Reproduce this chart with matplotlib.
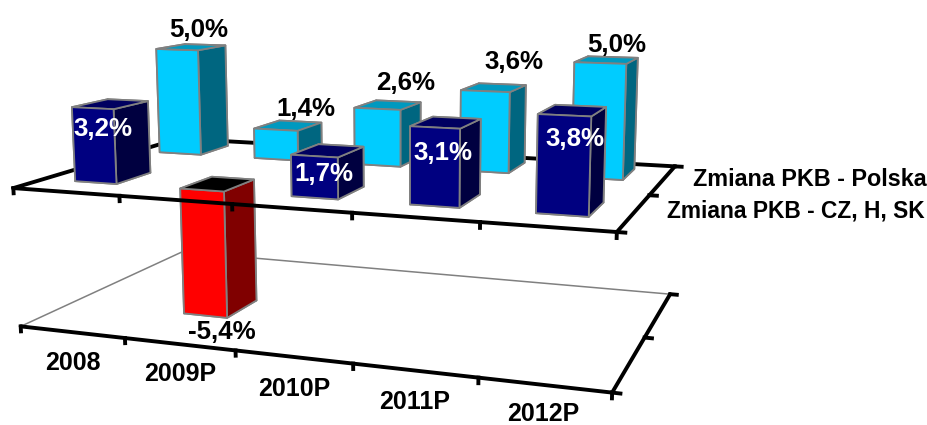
import numpy as np
import matplotlib
matplotlib.use("Agg")
import matplotlib.pyplot as plt
from mpl_toolkits.mplot3d import Axes3D

W, H = 928, 425

lata = ["2008", "2009P", "2010P", "2011P", "2012P"]
polska = [5.0, 1.4, 2.6, 3.6, 5.0]
cz_h_sk = [3.2, -5.4, 1.7, 3.1, 3.8]
serie = ["Zmiana PKB - CZ, H, SK", "Zmiana PKB - Polska"]
z_min = -6.0

# corners of the two floors: (x, y, z) -> picture pixel, used to fit the camera
rogi_3d = [(0, 0, 0), (5, 0, 0), (5, 2, 0), (0, 2, 0),
           (0, 0, z_min), (5, 0, z_min), (5, 2, z_min), (0, 2, z_min)]
rogi_px = [(14, 188), (617, 232), (675, 166), (178, 139),
           (20, 327), (612, 392), (670, 295), (183, 251)]


def dopasuj_kamere(p3, p2):
    A = []
    b = []
    for (x, y, z), (u, v) in zip(p3, p2):
        v = H - v
        A.append([x, y, z, 1, 0, 0, 0, 0, -u * x, -u * y, -u * z])
        b.append(u)
        A.append([0, 0, 0, 0, x, y, z, 1, -v * x, -v * y, -v * z])
        b.append(v)
    s = np.linalg.lstsq(np.array(A, float), np.array(b, float), rcond=None)[0]
    return np.append(s, 1.0).reshape(3, 4)


P = dopasuj_kamere(rogi_3d, rogi_px)

plt.rcParams["font.family"] = ["Liberation Sans", "DejaVu Sans"]

fig = plt.figure(figsize=(W / 100, H / 100), dpi=100)
ax = fig.add_axes([0, 0, 1, 1], projection="3d")
ax.set_axis_off()
ax.computed_zorder = False
ax.apply_aspect = lambda position=None: None


def get_proj():
    v = ax.viewLim
    return np.array([
        v.width / W * P[0] + v.x0 * P[2],
        v.height / H * P[1] + v.y0 * P[2],
        # depth has to stay negative, lines drop points with depth over 0
        [-0.3, 1.0, -0.1, -5.0],
        P[2],
    ])


ax.get_proj = get_proj


def napis(x, y, z, tekst, kolor="black", rozmiar=18.6, dx=0, dy=0):
    # labels go on the figure at the projected spot, dx/dy in pixels
    u, v, w = P @ np.array([x, y, z, 1.0])
    fig.text((u / w + dx) / W, (v / w + dy) / H, tekst, ha="center", va="center",
             fontsize=rozmiar, fontweight="bold", color=kolor, zorder=8)


def procent(val):
    return f"{val:.1f}%".replace(".", ",")


# bottom floor, thin grey back edges
ax.plot([0, 0, 5], [0, 2, 2], [z_min, z_min, z_min], color="#808080", lw=1.1, zorder=1)
# top floor, back edges behind the bars
ax.plot([0, 0, 5], [0, 2, 2], [0, 0, 0], color="black", lw=2.8, zorder=1)

# kolory: bottom, top, front, back, left, right
kolor_niebieski = ["#00CCFF", "#0099BF", "#00CCFF", "#00CCFF", "#00CCFF", "#006680"]
kolor_granat = ["#000080", "#000060", "#000080", "#000080", "#000080", "#000040"]
# negative bar: its "bottom" face is the one seen on top
kolor_czerwony = ["#000000", "#FF0000", "#FF0000", "#FF0000", "#FF0000", "#800000"]

gl = 0.40
x_tyl, y_tyl, szer_tyl = 0.24, 1.42, 0.44
x_przod, y_przod, szer_przod = 0.31, 0.31, 0.40

# hand placed labels in the original, small pixel nudges
przes_tyl = [(-6, 2), (3, 2), (2, 7), (3, 10), (-8, -2)]
przes_przod = [(-1, 0), (0, 1), (-2, 4), (-4, -3), (-2, -1)]
przes_lata = [-2, -1, -2, 0, 3]

for i, val in enumerate(polska):
    ax.bar3d(i + x_tyl, y_tyl, 0, szer_tyl, gl, val, color=kolor_niebieski, shade=False,
             edgecolor="#808080", linewidth=1.3, zorder=3)
    dx, dy = przes_tyl[i]
    napis(i + x_tyl + szer_tyl / 2 + 0.15, y_tyl + gl / 2, val + 0.75, procent(val), dx=dx, dy=dy)

for i, val in enumerate(cz_h_sk):
    kolor = kolor_czerwony if val < 0 else kolor_granat
    ax.bar3d(i + x_przod, y_przod, 0, szer_przod, gl, val, color=kolor, shade=False,
             edgecolor="#808080", linewidth=1.3, zorder=5)
    dx, dy = przes_przod[i]
    if val < 0:
        napis(i + x_przod + szer_przod / 2 + 0.15, y_przod, val - 0.7, procent(val), dx=dx, dy=dy)
    else:
        napis(i + x_przod + szer_przod / 2 + 0.1, y_przod, val - 0.85, procent(val), "white", dx=dx, dy=dy)

# front and right edges, ticks
for z in [0, z_min]:
    ax.plot([0, 5, 5], [0, 0, 2], [z, z, z], color="black", lw=2.8, zorder=6,
            solid_capstyle="round")
    for i in range(6):
        ax.plot([i, i], [0, 0], [z, z - 0.22], color="black", lw=2.8, zorder=6)
    for j in range(3):
        ax.plot([5, 5.06], [j, j], [z, z], color="black", lw=2.8, zorder=6)

for i, rok in enumerate(lata):
    napis(i + 0.5, 0, z_min - 1.25, rok, rozmiar=18, dy=przes_lata[i])

# series names sit right of the depth axis
fig.text(927 / W, 1 - 179.5 / H, serie[1], ha="right", va="center", fontsize=16.8,
         fontweight="bold", color="black")
fig.text(925 / W, 1 - 211 / H, serie[0], ha="right", va="center", fontsize=16.4,
         fontweight="bold", color="black")

fig.savefig("out.png", dpi=100)
